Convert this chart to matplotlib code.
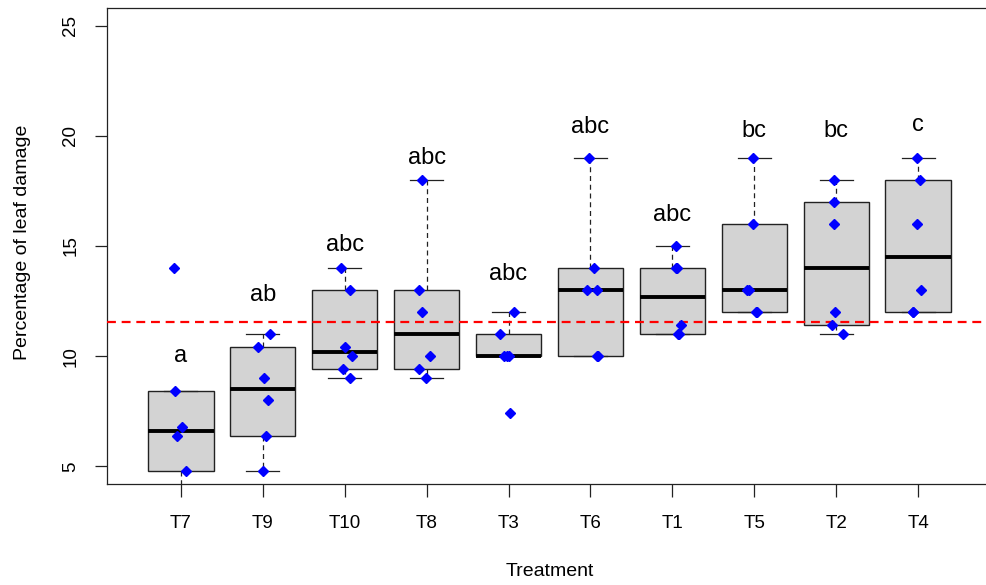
import numpy as np
import matplotlib
matplotlib.use("Agg")
import matplotlib.pyplot as plt

plt.rcParams['font.family'] = ['Liberation Sans', 'DejaVu Sans']

# treatments in plotting order (sorted by median in the original)
treatments = ['T7', 'T9', 'T10', 'T8', 'T3', 'T6', 'T1', 'T5', 'T2', 'T4']

damage = {
    'T7':  [3.0, 4.8, 6.4, 6.8, 8.4, 14.0],
    'T9':  [4.8, 6.4, 8.0, 9.0, 10.4, 11.0],
    'T10': [9.0, 9.4, 10.0, 10.4, 13.0, 14.0],
    'T8':  [9.0, 9.4, 10.0, 12.0, 13.0, 18.0],
    'T3':  [7.4, 10.0, 10.0, 10.0, 11.0, 12.0],
    'T6':  [10.0, 10.0, 13.0, 13.0, 14.0, 19.0],
    'T1':  [11.0, 11.0, 11.4, 14.0, 14.0, 15.0],
    'T5':  [12.0, 12.0, 13.0, 13.0, 16.0, 19.0],
    'T2':  [11.0, 11.4, 12.0, 16.0, 17.0, 18.0],
    'T4':  [12.0, 12.0, 13.0, 16.0, 18.0, 19.0],
}

# horizontal jitter of each point, same order as above
jitter = {
    'T7':  [0.0, 0.07, -0.05, 0.02, -0.07, -0.08],
    'T9':  [0.0, 0.04, 0.07, 0.02, -0.06, 0.085],
    'T10': [0.07, -0.02, 0.09, 0.01, 0.07, -0.05],
    'T8':  [-0.01, -0.09, 0.04, -0.05, -0.09, -0.05],
    'T3':  [0.02, -0.05, 0.0, -0.02, -0.10, 0.07],
    'T6':  [0.09, 0.08, -0.04, 0.08, 0.04, -0.02],
    'T1':  [0.08, 0.07, 0.10, 0.04, 0.05, 0.04],
    'T5':  [0.02, 0.03, -0.09, -0.06, -0.02, -0.02],
    'T2':  [0.08, -0.05, -0.01, -0.03, -0.03, -0.03],
    'T4':  [-0.06, -0.07, 0.03, -0.02, 0.02, -0.01],
}

# compact letter display and the height it was written at
letters = ['a', 'ab', 'abc', 'abc', 'abc', 'abc', 'abc', 'bc', 'bc', 'c']
letter_y = [9.75, 12.49, 14.76, 18.71, 13.47, 20.11, 16.13, 19.93, 19.93, 20.23]

ref_line = 11.55


def r_boxstats(x, label, coef=1.5):
    # same numbers as R's boxplot.stats (Tukey hinges via fivenum)
    x = np.sort(np.asarray(x, float))
    n = len(x)
    n4 = np.floor((n + 3) / 2) / 2
    d = np.array([1, n4, (n + 1) / 2, n + 1 - n4, n])
    fn = 0.5 * (x[np.floor(d).astype(int) - 1] + x[np.ceil(d).astype(int) - 1])
    iqr = fn[3] - fn[1]
    inside = x[(x >= fn[1] - coef * iqr) & (x <= fn[3] + coef * iqr)]
    return dict(label=label, whislo=inside.min(), q1=fn[1], med=fn[2],
                q3=fn[3], whishi=inside.max(), fliers=[])


stats = [r_boxstats(damage[t], t) for t in treatments]
pos = np.arange(1, len(treatments) + 1)

fig = plt.figure(figsize=(9.87, 5.85), dpi=100)
ax = fig.add_axes([107 / 987, 101 / 585, 885 / 987, 476 / 585])

ax.bxp(stats, positions=pos, widths=0.8, capwidths=0.4, patch_artist=True,
       showfliers=False,
       boxprops=dict(facecolor='#d3d3d3', edgecolor='#222222', linewidth=1.0),
       medianprops=dict(color='black', linewidth=2.8, solid_capstyle='butt'),
       whiskerprops=dict(color='#222222', linewidth=0.9, linestyle=(0, (4, 3))),
       capprops=dict(color='#222222', linewidth=0.9))

ax.axhline(ref_line, color='#ff0000', linewidth=1.6, linestyle=(0, (4, 2.6)),
           zorder=3)

for i, t in enumerate(treatments):
    xs = pos[i] + np.array(jitter[t])
    ax.plot(xs, damage[t], linestyle='none', marker='D', markersize=5,
            color='#0000ff', zorder=4)
    ax.text(pos[i], letter_y[i], letters[i], ha='center', va='baseline',
            fontsize=17)

ax.set_xlim(0.1, 10.9)
ax.set_ylim(4.2, 25.8)
ax.set_xticks(pos)
ax.set_xticklabels(treatments)
ax.set_yticks([5, 10, 15, 20, 25])
ax.tick_params(axis='both', length=9, width=0.9, color='#222222',
               labelsize=13.5, pad=11)
ax.tick_params(axis='x', pad=13)
for lab in ax.get_yticklabels():
    lab.set_rotation(90)
    lab.set_va('center')
for s in ax.spines.values():
    s.set_color('#222222')
    s.set_linewidth(0.9)

fig.text(550 / 987, 1 - 571 / 585, 'Treatment', ha='center', va='center',
         fontsize=14)
fig.text(23 / 987, 1 - 242 / 585, 'Percentage of leaf damage', rotation=90,
         ha='center', va='center', fontsize=14)

fig.savefig('out.png', dpi=100)
